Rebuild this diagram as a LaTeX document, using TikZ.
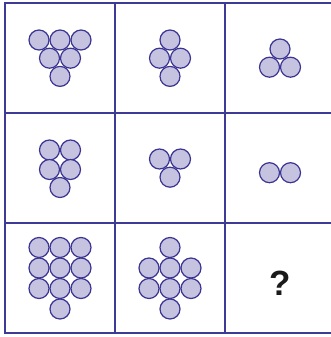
\documentclass[tikz,border=0pt]{standalone}
\usepackage{fontspec}
\setmainfont{Liberation Sans}
\definecolor{gridLine}{HTML}{3E3B96}
\definecolor{ballLine}{HTML}{3B3493}
\definecolor{ballFill}{HTML}{C5C3E0}
\definecolor{ink}{HTML}{1A1A1A}

\begin{document}
\begin{tikzpicture}[x=1pt, y=-1pt,
  ball/.style={circle, draw=ballLine, fill=ballFill, line width=1.2pt, minimum size=20pt, inner sep=0pt},
  gridline/.style={draw=gridLine, line width=1.9pt}]
\useasboundingbox (0,0) rectangle (331,337);
% grid
\draw[gridline] (5,3) rectangle (338,333);
\draw[gridline] (115,3) -- (115,333) (225,3) -- (225,333);
\draw[gridline] (5,113) -- (338,113) (5,223) -- (338,223);
% row 1
\foreach \x/\y [count=\k] in {39/40, 60/40, 81/40, 49.5/58.2, 70.5/58.2, 60/76.4}
  \node[ball] (a\k) at (\x,\y) {};
\foreach \x/\y [count=\k] in {170/40, 159.5/58.2, 180.5/58.2, 170/76.4}
  \node[ball] (b\k) at (\x,\y) {};
\foreach \x/\y [count=\k] in {280/49, 269.5/67.2, 290.5/67.2}
  \node[ball] (c\k) at (\x,\y) {};
% row 2
\foreach \x/\y [count=\k] in {49.5/150, 70.5/150, 49.5/169.5, 70.5/169.5, 60/187.5}
  \node[ball] (d\k) at (\x,\y) {};
\foreach \x/\y [count=\k] in {159.5/159, 180.5/159, 170/177.2}
  \node[ball] (e\k) at (\x,\y) {};
\foreach \x/\y [count=\k] in {269.5/172.7, 290.5/172.7}
  \node[ball] (f\k) at (\x,\y) {};
% row 3
\foreach \x/\y [count=\k] in {39/247.5, 60/247.5, 81/247.5, 39/268, 60/268, 81/268, 39/288.5, 60/288.5, 81/288.5, 60/309}
  \node[ball] (g\k) at (\x,\y) {};
\foreach \x/\y [count=\k] in {170/247.5, 149/268, 170/268, 191/268, 149/288.5, 170/288.5, 191/288.5, 170/309}
  \node[ball] (h\k) at (\x,\y) {};
\node[text=ink, font=\fontsize{35}{35}\selectfont\bfseries] (ask) at (280,283) {?};
\end{tikzpicture}
\end{document}
